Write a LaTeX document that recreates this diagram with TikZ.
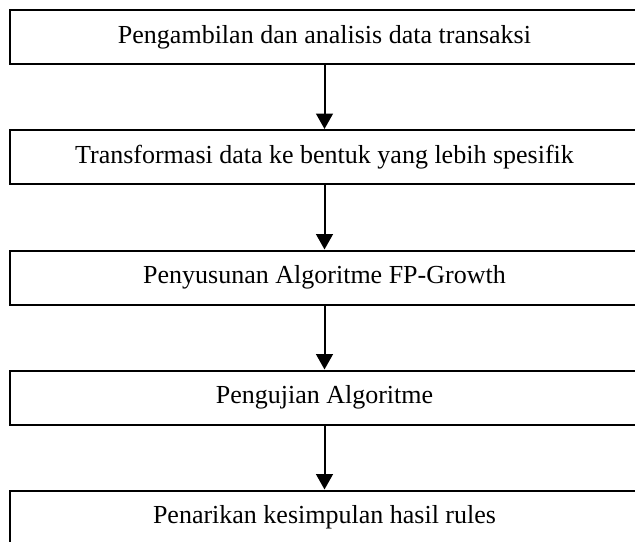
\documentclass[tikz,border=0pt]{standalone}
\usepackage{fontspec}
\setmainfont{Liberation Serif}
\usetikzlibrary{arrows.meta}
\begin{document}
\begin{tikzpicture}[x=0.75pt,y=-0.75pt,
  stepbox/.style={draw=black,line width=1.5pt,minimum width=472.5pt,
    minimum height=40.5pt,inner sep=0pt,
    font=\fontsize{19.5pt}{22pt}\selectfont},
  flow/.style={line width=1.5pt,-{Triangle[length=11.5pt,width=12.5pt]}}]
\useasboundingbox (0,0) rectangle (635,542);
\clip (0,0) rectangle (635,542);
% process steps, top to bottom
\node[stepbox] (s1) at (324.5,37)    {Pengambilan dan analisis data transaksi};
\node[stepbox] (s2) at (324.5,157)   {Transformasi data ke bentuk yang lebih spesifik};
\node[stepbox] (s3) at (324.5,277.5) {Penyusunan Algoritme FP-Growth};
\node[stepbox] (s4) at (324.5,397.5) {Pengujian Algoritme};
\node[stepbox] (s5) at (324.5,517.5) {Penarikan kesimpulan hasil rules};
% connectors
\draw[flow] (s1) -- (s2);
\draw[flow] (s2) -- (s3);
\draw[flow] (s3) -- (s4);
\draw[flow] (s4) -- (s5);
\end{tikzpicture}
\end{document}
